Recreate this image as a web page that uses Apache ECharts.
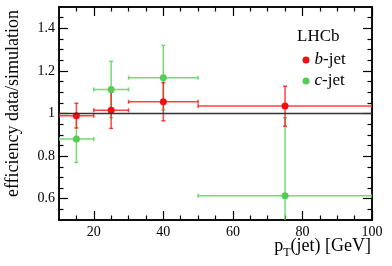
<!DOCTYPE html>
<html><head><meta charset="utf-8">
<script src="https://cdn.jsdelivr.net/npm/echarts@6/dist/echarts.min.js"></script>
<style>html,body{margin:0;padding:0;background:#fff}#c{width:392px;height:266px}</style>
</head><body><div id="c"></div>
<script>
const xCenter = [15, 25, 40, 75];
const xLow = [10, 20, 30, 50];
const xHigh = [20, 30, 50, 100];
const bY = [0.99, 1.015, 1.055, 1.035];
const bYLow = [0.932, 0.93, 0.966, 0.94];
const bYHigh = [1.048, 1.10, 1.145, 1.128];
const cY = [0.88, 1.113, 1.168, 0.614];
const cYLow = [0.77, 0.98, 1.016, 0.25];
const cYHigh = [0.99, 1.245, 1.32, 0.98];
const xMajor = [20, 40, 60, 80, 100];
const xMinor = [15, 25, 30, 35, 45, 50, 55, 65, 70, 75, 85, 90, 95];
const yMajor = [0.6, 0.8, 1, 1.2, 1.4];
const yMinor = [0.55, 0.65, 0.7, 0.75, 0.85, 0.9, 0.95, 1.05, 1.1, 1.15, 1.25, 1.3, 1.35, 1.45];
const refLine = [[10, 1], [100, 1]];
const seriesNames = ['b-jet', 'c-jet'];

const FONT = '"Liberation Serif", "Times New Roman", serif';
const RED = '#ee1111', RED_L = 'rgba(255,20,20,0.8)';
const GREEN = '#55cc55', GREEN_L = 'rgba(95,210,95,0.85)';

function pts(ys) { return xCenter.map((x, i) => [x, ys[i]]); }
function errs(ys, lo, hi) { return xCenter.map((x, i) => [x, ys[i], xLow[i], xHigh[i], lo[i], hi[i]]); }

function errRender(color) {
  return function (params, api) {
    const x = api.value(0), y = api.value(1);
    const c = api.coord([x, y]);
    const pl = api.coord([api.value(2), y]);
    const ph = api.coord([api.value(3), y]);
    const pyl = api.coord([x, api.value(4)]);
    const pyh = api.coord([x, api.value(5)]);
    const st = { stroke: color, lineWidth: 1.5 };
    const cap = 2;
    return {
      type: 'group', children: [
        { type: 'line', shape: { x1: pl[0], y1: c[1], x2: ph[0], y2: c[1] }, style: st },
        { type: 'line', shape: { x1: c[0], y1: pyl[1], x2: c[0], y2: pyh[1] }, style: st },
        { type: 'line', shape: { x1: c[0] - cap, y1: pyl[1], x2: c[0] + cap, y2: pyl[1] }, style: st },
        { type: 'line', shape: { x1: c[0] - cap, y1: pyh[1], x2: c[0] + cap, y2: pyh[1] }, style: st },
        { type: 'line', shape: { x1: pl[0], y1: c[1] - cap, x2: pl[0], y2: c[1] + cap }, style: st },
        { type: 'line', shape: { x1: ph[0], y1: c[1] - cap, x2: ph[0], y2: c[1] + cap }, style: st }
      ]
    };
  };
}

function xAx(pos, vals, len, labels) {
  return {
    type: 'value', position: pos, min: 10, max: 100, gridIndex: 0,
    axisLine: { show: labels !== null || true, lineStyle: { color: '#000', width: 1.5 } },
    axisTick: { show: true, inside: true, length: len, customValues: vals, lineStyle: { color: '#000', width: 1.2 } },
    axisLabel: labels ? { show: true, customValues: labels, margin: 5, color: '#000', fontSize: 14, fontFamily: FONT } : { show: false },
    splitLine: { show: false }
  };
}
function yAx(pos, vals, len, labels) {
  return {
    type: 'value', position: pos, min: 0.5, max: 1.5, gridIndex: 0,
    axisLine: { show: true, lineStyle: { color: '#000', width: 1.5 } },
    axisTick: { show: true, inside: true, length: len, customValues: vals, lineStyle: { color: '#000', width: 1.2 } },
    axisLabel: labels ? { show: true, customValues: labels, margin: 4, color: '#000', fontSize: 14, fontFamily: FONT,
      formatter: v => String(Math.round(v * 10) / 10) } : { show: false },
    splitLine: { show: false }
  };
}

const chart = echarts.init(document.getElementById('c'), null, { renderer: 'canvas' });
chart.setOption({
  animation: false,
  backgroundColor: '#fff',
  grid: { left: 59, right: 20, top: 7, bottom: 46 },
  xAxis: [
    xAx('bottom', xMajor, 9, xMajor),
    xAx('bottom', xMinor, 4.5, null),
    xAx('top', xMajor, 9, null),
    xAx('top', xMinor, 4.5, null)
  ],
  yAxis: [
    yAx('left', yMajor, 9, yMajor),
    yAx('left', yMinor, 4.5, null),
    yAx('right', yMajor, 9, null),
    yAx('right', yMinor, 4.5, null)
  ],
  title: {
    text: 'LHCb', left: 297, top: 28,
    textStyle: { fontFamily: FONT, fontSize: 17, fontWeight: 'normal', color: '#000' }, padding: 0
  },
  legend: {
    data: seriesNames.map(n => ({ name: n, icon: 'circle' })),
    orient: 'vertical', left: 302.5, top: 51.5, itemWidth: 7, itemHeight: 7, itemGap: 4, padding: 0,
    formatter: n => '{i|' + n[0] + '}' + n.slice(1),
    textStyle: { fontFamily: FONT, fontSize: 17, color: '#000',
      rich: { i: { fontFamily: FONT, fontSize: 17, fontStyle: 'italic', color: '#000' } } }
  },
  graphic: [
    { type: 'text', x: 13.5, y: 10, rotation: Math.PI / 2,
      style: { text: 'efficiency data/simulation', align: 'right', verticalAlign: 'middle',
        fontFamily: FONT, fontSize: 18, fill: '#000' } },
    { type: 'text', x: 371, y: 246,
      style: { text: '{m|p}{s|T}{m|(jet) [GeV]}', align: 'right', verticalAlign: 'middle',
        rich: {
          m: { fontFamily: FONT, fontSize: 18, lineHeight: 26, color: '#000' },
          s: { fontFamily: FONT, fontSize: 12, lineHeight: 12, verticalAlign: 'bottom', color: '#000' }
        } } }
  ],
  series: [
    { type: 'line', name: 'ref', data: refLine, symbol: 'none', silent: true,
      lineStyle: { color: '#333', width: 1.5 }, xAxisIndex: 0, yAxisIndex: 0 },
    { type: 'custom', name: 'c-err', data: errs(cY, cYLow, cYHigh), renderItem: errRender(GREEN_L), clip: true,
      encode: { x: [0, 2, 3], y: [1, 4, 5] }, xAxisIndex: 0, yAxisIndex: 0 },
    { type: 'scatter', name: 'c-jet', data: pts(cY), symbol: 'circle', symbolSize: 7,
      itemStyle: { color: GREEN, opacity: 1 }, xAxisIndex: 0, yAxisIndex: 0 },
    { type: 'custom', name: 'b-err', data: errs(bY, bYLow, bYHigh), renderItem: errRender(RED_L), clip: true,
      encode: { x: [0, 2, 3], y: [1, 4, 5] }, xAxisIndex: 0, yAxisIndex: 0 },
    { type: 'scatter', name: 'b-jet', data: pts(bY), symbol: 'circle', symbolSize: 7,
      itemStyle: { color: RED, opacity: 1 }, xAxisIndex: 0, yAxisIndex: 0 }
  ]
});
</script></body></html>
